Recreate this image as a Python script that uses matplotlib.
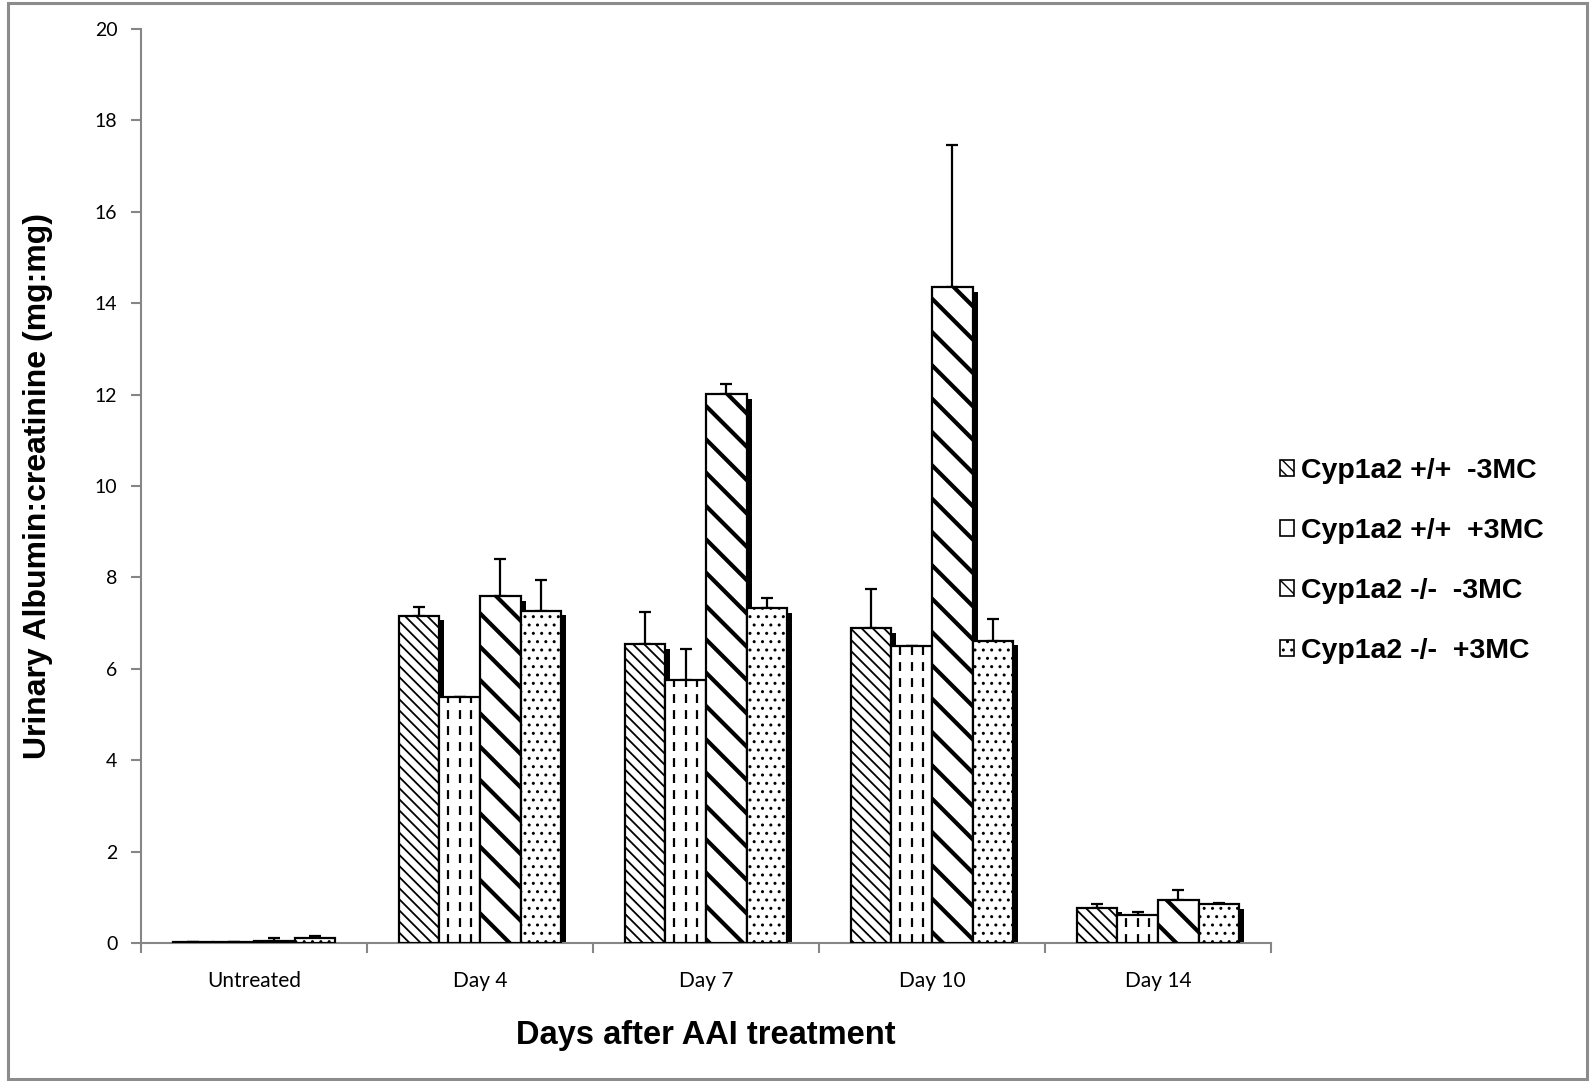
import numpy as np
import matplotlib
matplotlib.use("Agg")
import matplotlib.pyplot as plt
from matplotlib.patches import Rectangle, Patch

# data
groups = ["Untreated", "Day 4", "Day 7", "Day 10", "Day 14"]
labels = ["Cyp1a2 +/+  -3MC", "Cyp1a2 +/+  +3MC", "Cyp1a2 -/-  -3MC", "Cyp1a2 -/-  +3MC"]

wt_minus = [0.02, 7.16, 6.54, 6.89, 0.77]
wt_minus_err = [0.0, 0.19, 0.70, 0.86, 0.08]
wt_plus = [0.03, 5.38, 5.75, 6.50, 0.61]
wt_plus_err = [0.0, 0.0, 0.68, 0.0, 0.07]
ko_minus = [0.05, 7.59, 12.01, 14.35, 0.94]
ko_minus_err = [0.05, 0.81, 0.22, 3.11, 0.22]
ko_plus = [0.10, 7.27, 7.33, 6.61, 0.85]
ko_plus_err = [0.05, 0.67, 0.22, 0.48, 0.02]

series = [wt_minus, wt_plus, ko_minus, ko_plus]
errors = [wt_minus_err, wt_plus_err, ko_minus_err, ko_plus_err]
hatches = ["\\" * 3, "", "\\", ".."]
hatch_lw = [1.3, 1.0, 3.0, 1.0]

plt.rcParams['font.family'] = ['Lato', 'DejaVu Sans']

fig = plt.figure(figsize=(15.9, 10.81), dpi=100)
ax = fig.add_axes([0.0887, 0.1277, 0.7107, 0.8455])

# grey frame round the whole picture
fig.patches.append(Rectangle((0.005, 0.002), 0.993, 0.995, transform=fig.transFigure,
                             fill=False, edgecolor="#8c8c8c", linewidth=2.2))

x = np.arange(len(groups))
w = 0.18
gray = "#868686"

for i, (vals, errs) in enumerate(zip(series, errors)):
    pos = x + (i - 1.5) * w
    # drop shadow, a bit right and a bit lower
    ax.bar(pos + 0.022, np.maximum(np.array(vals) - 0.1, 0), w, color="black",
           zorder=1, linewidth=0)
    with plt.rc_context({'hatch.linewidth': hatch_lw[i]}):
        bars = ax.bar(pos, vals, w, color="white", edgecolor="black",
                      linewidth=1.6, hatch=hatches[i], zorder=3)
    for b in bars:
        if hasattr(b, "set_hatch_linewidth"):
            b.set_hatch_linewidth(hatch_lw[i])
    if i == 1:
        for b, v in zip(bars, vals):
            for f in (0.22, 0.5, 0.78):
                ln = ax.vlines(b.get_x() + f * w, 0, v, colors="black",
                               linewidth=1.6, linestyles=(0, (4, 3.2)), zorder=4)
                ln.set_clip_path(b)
    ax.errorbar(pos, vals, yerr=[np.zeros(len(errs)), errs], fmt="none",
                ecolor="black", elinewidth=1.6, capsize=4, capthick=1.6, zorder=2)

ax.set_xlim(-0.5, len(groups) - 0.5)
ax.set_ylim(0, 20)
ax.set_yticks(np.arange(0, 21, 2))
ax.set_xticks(x)
ax.set_xticklabels(groups)
ax.set_xticks(np.arange(-0.5, len(groups)), minor=True)
ax.tick_params(axis="x", which="major", length=0, pad=20, labelsize=15)
ax.tick_params(axis="x", which="minor", length=7, color=gray, width=1.5, direction="out")
ax.tick_params(axis="y", length=7, color=gray, width=1.5, labelsize=14, pad=10)

for s in ["top", "right"]:
    ax.spines[s].set_visible(False)
for s in ["left", "bottom"]:
    ax.spines[s].set_color(gray)
    ax.spines[s].set_linewidth(1.5)

ax.set_xlabel("Days after AAI treatment", family="Liberation Sans", weight="bold",
              fontsize=23.5, labelpad=21)
ax.set_ylabel("Urinary Albumin:creatinine (mg:mg)", family="Liberation Sans",
              weight="bold", fontsize=23, labelpad=30)

handles = []
for i in range(4):
    with plt.rc_context({'hatch.linewidth': 1.0}):
        handles.append(Patch(facecolor="white", edgecolor="black", linewidth=1.2,
                             hatch=["\\\\\\", "", "\\\\", ".."][i]))
fig.legend(handles, labels, loc="center left", bbox_to_anchor=(0.789, 0.481),
           frameon=False, handlelength=0.5, handleheight=0.5, handletextpad=0.25,
           labelspacing=1.2, prop={"family": "Liberation Sans", "weight": "bold", "size": 20.5})

fig.savefig("out.png", dpi=100)
